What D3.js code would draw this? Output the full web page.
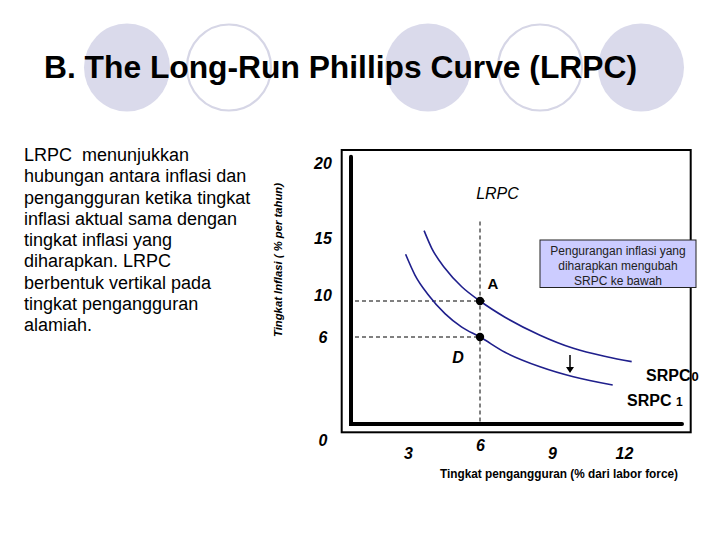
<!DOCTYPE html>
<html>
<head>
<meta charset="utf-8">
<script src="https://cdn.jsdelivr.net/npm/d3@7"></script>
<style>
  body { margin: 0; background: #fff; }
  svg { display: block; font-family: "Liberation Sans", Arial, sans-serif; }
  text { white-space: pre; }
</style>
</head>
<body>
<svg id="chart" width="720" height="540"></svg>
<script>
// values
const yTicks = [0, 6, 10, 15, 20];
const xTicks = [3, 6, 9, 12];
const naturalRate = 6;

// unemployment (%) / inflation (%) along each short-run curve
const srpc0U = [3.67, 3.99, 4.54, 5.24, 6.0, 7.04, 8.5, 9.89, 11.28, 12.32];
const srpc0Pi = [15.49, 14.18, 12.6, 11.13, 10, 8.2, 6.2, 5.22, 4.64, 4.3];
const srpc1U = [2.9, 3.29, 3.85, 4.54, 5.24, 6.0, 7.04, 8.5, 9.89, 11.53];
const srpc1Pi = [13.71, 12.06, 10.48, 8.6, 7.1, 6, 4.95, 3.95, 3.26, 2.69];

const pointLabels = ["A", "D"];
const pointPi = [10, 6];

const descLines = [
  "LRPC  menunjukkan",
  "hubungan antara inflasi dan",
  "pengangguran ketika tingkat",
  "inflasi aktual sama dengan",
  "tingkat inflasi yang",
  "diharapkan. LRPC",
  "berbentuk vertikal pada",
  "tingkat pengangguran",
  "alamiah."
];
const noteLines = ["Pengurangan inflasi yang", "diharapkan mengubah", "SRPC ke bawah"];

const svg = d3.select("#chart");

// decorative circles behind the title
const deco = [
  { cx: 127, filled: true }, { cx: 229, filled: false },
  { cx: 428, filled: true }, { cx: 540, filled: false },
  { cx: 641, filled: true }
];
svg.selectAll("ellipse.deco")
  .data(deco)
  .enter()
  .append("ellipse")
  .attr("class", "deco")
  .attr("cx", d => d.cx)
  .attr("cy", 67.5)
  .attr("rx", d => d.filled ? 43 : 42)
  .attr("ry", d => d.filled ? 44 : 43)
  .attr("fill", d => d.filled ? "#dadaeb" : "none")
  .attr("stroke", d => d.filled ? "none" : "#d6d6e6")
  .attr("stroke-width", 2.2);

svg.append("text")
  .attr("x", 44)
  .attr("y", 78)
  .attr("font-size", 32)
  .attr("font-weight", "bold")
  .attr("textLength", 593)
  .attr("lengthAdjust", "spacingAndGlyphs")
  .attr("fill", "#000")
  .text("B. The Long-Run Phillips Curve (LRPC)");

// explanation on the left
svg.append("g")
  .selectAll("text")
  .data(descLines)
  .enter()
  .append("text")
  .attr("x", 24)
  .attr("y", (d, i) => 161 + i * 21.25)
  .attr("font-size", 18)
  .text(d => d);

// scales
const x = d3.scaleLinear().domain([0, 12]).range([336, 624]);
const y = d3.scaleLinear().domain([0, 6, 10, 15, 20]).range([424, 337, 301, 238, 163]);

// frame
svg.append("rect")
  .attr("x", 341.7).attr("y", 150)
  .attr("width", 349).attr("height", 282.3)
  .attr("fill", "none").attr("stroke", "#000").attr("stroke-width", 2);

const axisX0 = 351, axisY0 = y(0);
// dashed guides
const dash = "4,3";
svg.append("line")
  .attr("x1", x(naturalRate)).attr("x2", x(naturalRate))
  .attr("y1", y(16.1)).attr("y2", axisY0)
  .attr("stroke", "#000").attr("stroke-dasharray", dash);
svg.append("line")
  .attr("x1", axisX0 + 4).attr("x2", x(naturalRate) + 6)
  .attr("y1", y(10)).attr("y2", y(10))
  .attr("stroke", "#000").attr("stroke-dasharray", dash);
svg.append("line")
  .attr("x1", axisX0 + 4).attr("x2", x(naturalRate))
  .attr("y1", y(6)).attr("y2", y(6))
  .attr("stroke", "#000").attr("stroke-dasharray", dash);

// thick axes
svg.append("path")
  .attr("d", `M${axisX0},156.7 L${axisX0},${axisY0} L682,${axisY0}`)
  .attr("fill", "none").attr("stroke", "#000")
  .attr("stroke-width", 4).attr("stroke-linecap", "round");

// tick labels through d3 axes
const yAxis = svg.append("g")
  .attr("transform", "translate(323,0)")
  .call(d3.axisLeft(y).tickValues(yTicks).tickSize(0).tickPadding(0));
yAxis.select(".domain").remove();
yAxis.selectAll("text")
  .attr("x", 0)
  .attr("text-anchor", "middle")
  .attr("dy", d => d === 0 ? "1.35em" : d === 10 ? "-0.05em" : "0.35em")
  .attr("font-family", "Liberation Sans, Arial, sans-serif")
  .attr("font-size", 16)
  .attr("font-weight", "bold")
  .attr("font-style", "italic")
  .attr("fill", "#000");

const xAxis = svg.append("g")
  .attr("transform", "translate(0,453)")
  .call(d3.axisBottom(x).tickValues(xTicks).tickSize(0).tickPadding(0));
xAxis.select(".domain").remove();
xAxis.selectAll("text")
  .attr("y", 0)
  .attr("dy", d => d === naturalRate ? "-0.1em" : "0.35em")
  .attr("font-family", "Liberation Sans, Arial, sans-serif")
  .attr("font-size", 16)
  .attr("font-weight", "bold")
  .attr("font-style", "italic")
  .attr("fill", "#000");

// axis titles
svg.append("text")
  .attr("transform", "translate(282,260) rotate(-90)")
  .attr("text-anchor", "middle")
  .attr("font-size", 11.5)
  .attr("font-weight", "bold")
  .attr("font-style", "italic")
  .attr("textLength", 154)
  .attr("lengthAdjust", "spacingAndGlyphs")
  .text("Tingkat Inflasi ( % per tahun)");

svg.append("text")
  .attr("x", 440)
  .attr("y", 477.5)
  .attr("font-size", 12)
  .attr("font-weight", "bold")
  .attr("textLength", 238)
  .attr("lengthAdjust", "spacingAndGlyphs")
  .text("Tingkat pengangguran (% dari labor force)");

// short-run curves
const line = d3.line()
  .x(d => x(d[0]))
  .y(d => y(d[1]))
  .curve(d3.curveMonotoneX);
const curves = [d3.zip(srpc0U, srpc0Pi), d3.zip(srpc1U, srpc1Pi)];
svg.selectAll("path.srpc")
  .data(curves)
  .enter()
  .append("path")
  .attr("class", "srpc")
  .attr("d", line)
  .attr("fill", "none")
  .attr("stroke", "#1f1f8c")
  .attr("stroke-width", 1.6);

// equilibrium points
svg.selectAll("circle.pt")
  .data(pointPi)
  .enter()
  .append("circle")
  .attr("class", "pt")
  .attr("cx", x(naturalRate))
  .attr("cy", d => y(d))
  .attr("r", 4.2)
  .attr("fill", "#000");

svg.append("text")
  .attr("x", 493).attr("y", 289)
  .attr("text-anchor", "middle")
  .attr("font-size", 15).attr("font-weight", "bold")
  .text(pointLabels[0]);
svg.append("text")
  .attr("x", 458).attr("y", 362.5)
  .attr("text-anchor", "middle")
  .attr("font-size", 16).attr("font-weight", "bold").attr("font-style", "italic")
  .text(pointLabels[1]);

svg.append("text")
  .attr("x", 497.5).attr("y", 199)
  .attr("text-anchor", "middle")
  .attr("font-size", 16).attr("font-style", "italic")
  .text("LRPC");

// shift arrow
svg.append("line")
  .attr("x1", 570).attr("x2", 570).attr("y1", 355).attr("y2", 369)
  .attr("stroke", "#000").attr("stroke-width", 1.5);
svg.append("path")
  .attr("d", "M566,367 L570,373 L574,367 Z")
  .attr("fill", "#000");

// curve labels
const s0 = svg.append("text").attr("x", 646).attr("y", 381)
  .attr("font-size", 16).attr("font-weight", "bold");
s0.append("tspan").text("SRPC");
s0.append("tspan").attr("font-size", 13).attr("dx", 1).text("0");
const s1 = svg.append("text").attr("x", 627).attr("y", 406)
  .attr("font-size", 16).attr("font-weight", "bold");
s1.append("tspan").text("SRPC ");
s1.append("tspan").attr("font-size", 12).text("1");

// note box
svg.append("rect")
  .attr("x", 540).attr("y", 240)
  .attr("width", 156).attr("height", 47.5)
  .attr("fill", "#ccccff").attr("stroke", "#222").attr("stroke-width", 1);
svg.append("g")
  .selectAll("text")
  .data(noteLines)
  .enter()
  .append("text")
  .attr("x", 618)
  .attr("y", (d, i) => 255 + i * 14.8)
  .attr("text-anchor", "middle")
  .attr("font-size", 12)
  .attr("fill", "#222")
  .text(d => d);
</script>
</body>
</html>
